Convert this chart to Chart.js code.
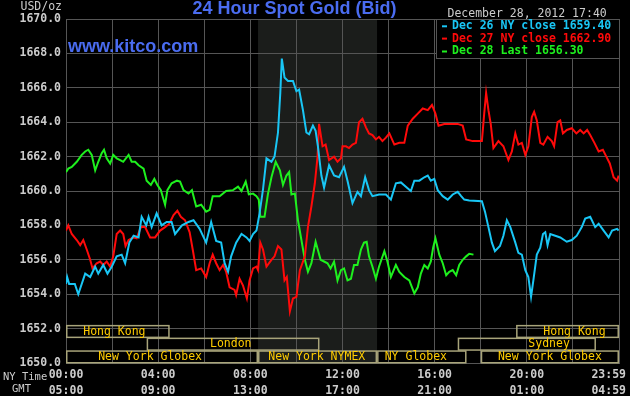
<!DOCTYPE html>
<html lang="en">
<head>
<meta charset="utf-8">
<title>24 Hour Spot Gold (Bid)</title>
<script src="https://cdn.jsdelivr.net/npm/chart.js@4.4.0/dist/chart.umd.min.js"></script>
<style>
  html, body { margin: 0; padding: 0; background: #000; }
  #wrap { width: 630px; height: 396px; }
</style>
</head>
<body>
<div id="wrap"><canvas id="goldChart" width="630" height="396"></canvas></div>

<script>
// minutes after 00:00 NY time, price in USD/oz
var cyanTimes = [0,3,8,23,32,50,63,76,84,97,108,119,132,145,154,165,176,189,197,209,215,223,236,249,262,275,284,302,319,332,348,365,378,391,404,413,422,430,443,457,470,478,487,496,504,513,522,535,543,552,558,562,569,578,591,600,607,617,626,633,643,650,656,665,672,685,698,711,724,733,746,759,768,779,789,798,815,833,846,859,872,885,898,907,920,933,942,950,959,968,981,994,1007,1020,1029,1037,1050,1083,1091,1100,1109,1117,1130,1139,1148,1157,1170,1178,1187,1196,1204,1211,1217,1226,1235,1242,1248,1254,1261,1274,1287,1304,1317,1330,1343,1352,1365,1378,1387,1400,1413,1422,1435,1439];
var cyanValues = [1654.6,1655.0,1654.6,1654.6,1654.0,1655.2,1655.0,1655.6,1655.2,1655.7,1655.2,1655.6,1656.2,1656.3,1655.8,1657.0,1657.4,1657.3,1658.5,1658.0,1658.5,1657.9,1658.7,1658.0,1658.2,1658.2,1657.5,1658.0,1658.2,1658.3,1657.8,1657.0,1658.2,1657.1,1657.0,1655.8,1655.3,1656.2,1657.0,1657.5,1657.3,1657.1,1657.5,1657.7,1658.7,1660.1,1661.9,1661.7,1662.0,1663.4,1665.7,1667.7,1666.6,1666.4,1666.4,1665.8,1665.9,1664.7,1663.4,1663.3,1663.8,1663.5,1662.6,1660.9,1660.2,1661.5,1660.9,1660.8,1661.4,1660.6,1659.3,1659.95,1659.7,1660.8,1660.05,1659.7,1659.8,1659.8,1659.5,1660.45,1660.5,1660.25,1660.0,1660.6,1660.6,1660.8,1660.9,1660.6,1660.7,1660.05,1659.7,1659.5,1659.8,1659.95,1659.7,1659.5,1659.45,1659.4,1658.8,1657.9,1657.0,1656.5,1656.8,1657.4,1658.3,1657.9,1657.0,1656.4,1656.3,1655.4,1655.0,1653.85,1654.8,1656.3,1656.7,1657.5,1657.6,1656.85,1657.5,1657.4,1657.3,1657.05,1657.15,1657.4,1657.9,1658.4,1658.5,1657.9,1658.1,1657.7,1657.3,1657.7,1657.8,1657.7];

var redTimes = [0,6,15,28,37,45,54,63,69,80,89,97,106,115,123,132,141,149,155,163,176,184,195,206,219,232,245,258,269,280,290,299,310,322,330,339,352,365,374,382,391,400,409,417,426,439,443,452,461,471,478,487,496,500,506,513,522,535,543,552,561,569,575,583,591,600,609,622,630,639,648,655,659,668,676,685,698,707,716,720,729,737,746,755,763,772,781,789,798,807,815,824,833,842,855,868,881,890,903,916,929,942,953,962,970,985,1003,1020,1033,1042,1059,1083,1089,1094,1100,1106,1113,1126,1139,1152,1161,1170,1178,1187,1196,1204,1213,1219,1226,1235,1243,1254,1265,1271,1280,1287,1294,1304,1317,1329,1339,1348,1357,1365,1376,1387,1398,1407,1416,1426,1435,1439];
var redValues = [1657.7,1658.0,1657.5,1657.15,1656.85,1657.15,1656.6,1656.0,1655.5,1655.8,1655.9,1655.7,1655.9,1655.6,1656.2,1657.5,1657.7,1657.5,1656.8,1657.15,1657.3,1657.25,1657.9,1657.9,1657.3,1657.3,1657.7,1657.9,1658.1,1658.6,1658.85,1658.5,1658.3,1657.6,1656.6,1655.4,1655.5,1655.0,1655.8,1656.3,1655.8,1655.4,1655.7,1655.3,1654.4,1654.25,1653.95,1654.9,1654.5,1653.75,1654.8,1655.5,1655.6,1655.4,1657.0,1656.6,1655.6,1656.0,1656.2,1656.8,1656.6,1654.8,1655.0,1653.0,1653.75,1653.85,1655.4,1656.2,1657.9,1659.1,1660.45,1662.0,1663.9,1662.6,1662.7,1661.8,1662.0,1661.7,1661.9,1662.6,1662.6,1662.5,1662.7,1662.8,1664.0,1664.2,1663.7,1663.35,1663.25,1663.0,1663.15,1662.9,1663.1,1663.35,1662.7,1662.8,1662.8,1663.8,1664.2,1664.5,1664.8,1664.7,1665.0,1664.5,1663.8,1663.9,1663.9,1663.9,1663.8,1663.0,1662.9,1662.9,1664.5,1665.7,1664.7,1663.9,1662.5,1662.9,1662.6,1661.8,1662.3,1663.35,1662.7,1662.8,1662.1,1662.6,1664.3,1664.6,1664.1,1662.8,1662.7,1663.15,1662.9,1662.6,1664.0,1664.1,1663.35,1663.55,1663.65,1663.35,1663.55,1663.35,1663.55,1663.25,1662.8,1662.3,1662.4,1662.0,1661.6,1660.8,1660.6,1660.9];

var greenTimes = [0,6,15,28,41,50,58,67,76,84,93,99,106,115,123,132,141,149,163,171,180,189,202,210,221,230,238,247,254,258,264,275,289,297,306,319,328,339,352,365,374,382,400,417,435,448,457,468,476,487,496,502,506,517,526,535,546,557,565,574,581,587,596,604,613,622,630,639,650,663,672,681,689,698,707,716,724,733,742,750,759,768,776,783,789,798,807,815,829,837,846,859,868,881,894,907,916,924,933,942,950,956,962,972,981,990,998,1007,1016,1024,1033,1042,1050,1061];
var greenValues = [1661.1,1661.3,1661.4,1661.7,1662.1,1662.3,1662.4,1662.1,1661.2,1661.7,1662.2,1662.4,1661.9,1661.6,1662.1,1661.9,1661.8,1661.7,1662.1,1661.7,1661.7,1661.5,1661.3,1660.6,1660.35,1660.7,1660.35,1660.05,1659.5,1659.2,1660.05,1660.45,1660.6,1660.55,1660.05,1659.85,1660.05,1659.1,1659.2,1658.8,1658.9,1659.7,1659.7,1660.0,1660.05,1660.25,1660.0,1660.55,1659.8,1659.85,1659.7,1659.5,1658.5,1658.5,1659.85,1660.8,1661.7,1661.2,1660.35,1660.9,1661.1,1659.8,1659.85,1658.3,1657.15,1656.0,1655.3,1655.8,1657.05,1656.0,1655.9,1655.8,1655.5,1655.9,1654.8,1655.4,1655.5,1654.8,1654.9,1655.7,1655.7,1656.6,1657.0,1657.05,1656.2,1655.6,1654.9,1655.6,1656.5,1655.9,1655.0,1655.7,1655.3,1655.0,1654.8,1654.05,1654.4,1655.2,1655.7,1655.5,1655.9,1656.7,1657.25,1656.3,1655.8,1655.1,1655.3,1655.4,1655.1,1655.7,1656.0,1656.2,1656.35,1656.3];

var seriesLabels = ['Dec 26 NY close 1659.40', 'Dec 27 NY close 1662.90', 'Dec 28 Last 1656.30'];
var seriesColors = ['#19c6f5', '#ff0a0a', '#1ef01e'];

var nyTickTimes = [0, 240, 480, 720, 960, 1200, 1440];
var nyTickLabels = ['00:00', '04:00', '08:00', '12:00', '16:00', '20:00', '23:59'];
var gmtTickLabels = ['05:00', '09:00', '13:00', '17:00', '21:00', '01:00', '04:59'];

// trading sessions: row 0 = top, 2 = bottom
var sessionNames = ['Hong Kong', 'Hong Kong', 'London', 'Sydney', 'New York Globex', 'New York NYMEX', 'NY Globex', 'New York Globex'];
var sessionRows  = [0, 0, 1, 1, 2, 2, 2, 2];
var sessionStart = [0, 1172, 210, 1020, 0, 500, 810, 1080];
var sessionEnd   = [270, 1440, 660, 1380, 500, 810, 1043, 1440];
var sessionMid   = [126, 1324, 429, 1258, 219, 653, 911, 1260];

var nymexStart = 500, nymexEnd = 810;

function toPoints(times, values) {
    var pts = [];
    for (var i = 0; i < times.length; i++) {
        pts.push({ x: times[i], y: values[i] });
    }
    return pts;
}

var mono = 'DejaVu Sans Mono';
var gridColor = '#555555';

var backPlugin = {
    id: 'backPlugin',
    beforeDraw: function (chart) {
        var ctx = chart.ctx, a = chart.chartArea, x = chart.scales.x;
        ctx.save();
        ctx.fillStyle = '#000';
        ctx.fillRect(0, 0, chart.width, chart.height);
        var x1 = x.getPixelForValue(nymexStart), x2 = x.getPixelForValue(nymexEnd);
        ctx.fillStyle = '#1b1d1b';
        ctx.fillRect(x1, a.top, x2 - x1, a.bottom - a.top);
        ctx.restore();
    }
};

var overlayPlugin = {
    id: 'overlayPlugin',
    afterDatasetsDraw: function (chart) {
        var ctx = chart.ctx, a = chart.chartArea, x = chart.scales.x;
        ctx.save();

        // session boxes
        var rowH = 12.7;
        ctx.font = '11.5px ' + mono;
        ctx.textAlign = 'center';
        ctx.textBaseline = 'middle';
        for (var i = 0; i < sessionNames.length; i++) {
            var top = a.bottom - (3 - sessionRows[i]) * rowH;
            var x1 = x.getPixelForValue(sessionStart[i]);
            var x2 = x.getPixelForValue(sessionEnd[i]);
            ctx.strokeStyle = '#a8a47a';
            ctx.lineWidth = 1.5;
            ctx.strokeRect(x1 + 0.75, top + 0.75, x2 - x1 - 1.5, rowH - 1);
            ctx.fillStyle = '#ffcc00';
            ctx.fillText(sessionNames[i], x.getPixelForValue(sessionMid[i]), top + rowH / 2 + 0.5);
        }

        // legend box
        var lx = 436, ly = a.top, lw = a.right - 436, lh = 39;
        ctx.fillStyle = '#000';
        ctx.fillRect(lx, ly, lw, lh);
        ctx.strokeStyle = gridColor;
        ctx.lineWidth = 1;
        ctx.strokeRect(lx + 0.5, ly + 0.5, lw, lh);
        ctx.font = 'bold 11.5px ' + mono;
        ctx.textAlign = 'left';
        var rowsY = [26.3, 38.6, 51.5];
        chart.data.datasets.forEach(function (ds, k) {
            ctx.fillStyle = ds.borderColor;
            ctx.fillRect(442, rowsY[k] - 1, 5, 2);
            ctx.fillText(ds.label, 452, rowsY[k]);
        });
        ctx.restore();
    },
    afterDraw: function (chart) {
        var ctx = chart.ctx, x = chart.scales.x;
        ctx.save();

        ctx.fillStyle = '#4a6cf0';
        ctx.font = 'bold 18px "Liberation Sans", Arial, sans-serif';
        ctx.textAlign = 'center';
        ctx.textBaseline = 'alphabetic';
        ctx.fillText('24 Hour Spot Gold (Bid)', 294.5, 14);
        ctx.textAlign = 'left';
        ctx.fillText('www.kitco.com', 68, 52);

        ctx.fillStyle = '#cccccc';
        ctx.font = '11.5px ' + mono;
        ctx.fillText('December 28, 2012 17:40', 447.5, 17);
        ctx.textAlign = 'right';
        ctx.fillText('USD/oz', 62, 9.5);

        ctx.textBaseline = 'middle';
        ctx.textAlign = 'left';
        ctx.font = '10.5px ' + mono;
        ctx.fillText('NY Time', 3, 377);
        ctx.fillText('GMT', 12, 389.5);

        ctx.font = 'bold 11.5px ' + mono;
        ctx.textAlign = 'center';
        for (var i = 0; i < nyTickTimes.length; i++) {
            var px = x.getPixelForValue(nyTickTimes[i]);
            var w = ctx.measureText(nyTickLabels[i]).width;
            px = Math.min(px, chart.width - w / 2 - 4);
            ctx.fillText(nyTickLabels[i], px, 375);
            ctx.fillText(gmtTickLabels[i], px, 391);
        }
        ctx.restore();
    }
};

var ctx = document.getElementById('goldChart').getContext('2d');
var goldChart = new Chart(ctx, {
    type: 'line',
    data: {
        datasets: [
            { label: seriesLabels[0], data: toPoints(cyanTimes, cyanValues), borderColor: seriesColors[0] },
            { label: seriesLabels[1], data: toPoints(redTimes, redValues), borderColor: seriesColors[1] },
            { label: seriesLabels[2], data: toPoints(greenTimes, greenValues), borderColor: seriesColors[2] }
        ]
    },
    options: {
        responsive: false,
        devicePixelRatio: 1,
        animation: false,
        layout: { padding: { top: 19, right: 11, left: 0, bottom: 0 } },
        elements: {
            point: { radius: 0 },
            line: { borderWidth: 2, tension: 0 }
        },
        plugins: {
            legend: { display: false },
            tooltip: { enabled: false }
        },
        scales: {
            x: {
                type: 'linear',
                min: 0,
                max: 1440,
                grid: { color: gridColor, drawTicks: false },
                border: { color: gridColor },
                ticks: { display: false },
                afterBuildTicks: function (s) {
                    var t = [];
                    for (var m = 0; m <= 1440; m += 120) t.push({ value: m });
                    s.ticks = t;
                },
                afterFit: function (s) {
                    s.height = 33;
                    s.paddingLeft = 0;
                    s.paddingRight = 0;
                }
            },
            y: {
                min: 1650,
                max: 1670,
                grid: { color: gridColor, drawTicks: false },
                border: { color: gridColor },
                ticks: {
                    stepSize: 2,
                    padding: 5,
                    color: '#cccccc',
                    font: { family: mono, size: 11.5, weight: 'bold' },
                    callback: function (v) { return v.toFixed(1); }
                },
                afterFit: function (s) {
                    s.width = 66;
                    s.paddingTop = 0;
                    s.paddingBottom = 0;
                }
            }
        }
    },
    plugins: [backPlugin, overlayPlugin]
});
</script>
</body>
</html>
